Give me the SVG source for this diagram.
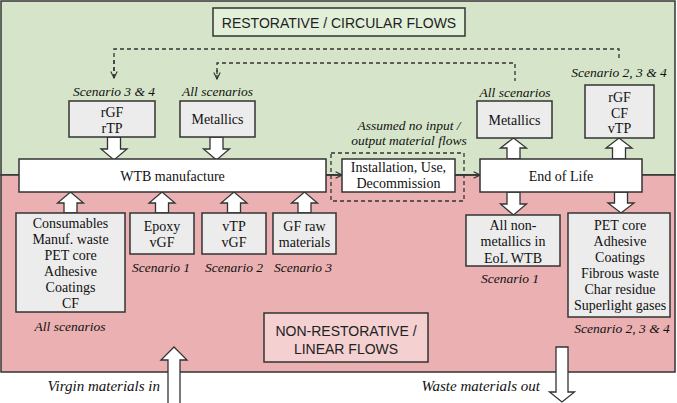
<svg xmlns="http://www.w3.org/2000/svg" width="677" height="403" viewBox="0 0 677 403">
<defs>
<style>
.bg-g{fill:#d6e5c9;stroke:#333;stroke-width:1.5}
.bg-p{fill:#ebb0b1;stroke:#333;stroke-width:1.5}
.box{fill:#ececec;stroke:#333;stroke-width:1.5}
.wbox{fill:#fff;stroke:#333;stroke-width:1.5}
.ba{fill:#fff;stroke:#333;stroke-width:1.3;stroke-linejoin:miter}
.t{font-family:'Liberation Serif','Times New Roman','DejaVu Serif',serif;font-size:14px;fill:#111;text-anchor:middle}
.i{font-family:'Liberation Serif','Times New Roman','DejaVu Serif',serif;font-size:13.5px;font-style:italic;fill:#111;text-anchor:middle}
.il{font-family:'Liberation Serif','Times New Roman','DejaVu Serif',serif;font-size:15px;font-style:italic;fill:#111}
.s{font-family:'Liberation Sans',Arial,sans-serif;font-size:14px;fill:#222;text-anchor:middle}
.dash{fill:none;stroke:#333;stroke-width:1.3;stroke-dasharray:4 3}
.conn{fill:none;stroke:#333;stroke-width:1.3}
</style>
<marker id="chev" viewBox="0 0 10 10" refX="9" refY="5" markerWidth="8" markerHeight="8" markerUnits="userSpaceOnUse" orient="auto">
<polyline points="1,1 9,5 1,9" fill="none" stroke="#333" stroke-width="1.4"/>
</marker>
</defs>

<g id="background">
<rect class="bg-g" x="1" y="1" width="674" height="174"/>
<rect class="bg-p" x="1" y="175" width="674" height="197"/>
</g>

<g id="title-restorative">
<rect x="213" y="8" width="252" height="28" fill="#e2efd9" stroke="#333" stroke-width="1.5"/>
<text class="s" x="339" y="28" font-size="15">RESTORATIVE / CIRCULAR FLOWS</text>
</g>

<g id="title-linear">
<rect x="264" y="313" width="164" height="49" fill="#f4d0d1" stroke="#333" stroke-width="1.5"/>
<text class="s" x="346" y="336">NON-RESTORATIVE /</text>
<text class="s" x="346" y="354">LINEAR FLOWS</text>
</g>

<g id="connectors">
<path class="dash" d="M114,78 V49 H619 V61"/>
<path class="dash" d="M114,60 V78" marker-end="url(#chev)"/>
<path class="dash" d="M217,79 V63 H515 V81"/>
<path class="dash" d="M217,70 V79" marker-end="url(#chev)"/>
<rect class="dash" x="331" y="153" width="133" height="48"/>
<line class="conn" x1="326" y1="175" x2="342" y2="175" marker-end="url(#chev)"/>
<line class="conn" x1="455" y1="175" x2="480" y2="175" marker-end="url(#chev)"/>
<path class="ba" d="M107.5,137 H120.5 V149 H127 L114,160 L101,149 H107.5 Z"/>
<path class="ba" d="M210,137 H223 V149 H229.5 L216.5,160 L203.5,149 H210 Z"/>
<path class="ba" d="M507,159 H520 V148 H526.5 L513.5,138 L500.5,148 H507 Z"/>
<path class="ba" d="M612.5,159 H625.5 V148 H632 L619,138 L606,148 H612.5 Z"/>
<path class="ba" d="M64,213 H77 V203 H83.5 L70.5,192 L57.5,203 H64 Z"/>
<path class="ba" d="M155.5,213 H168.5 V203 H175 L162,192 L149,203 H155.5 Z"/>
<path class="ba" d="M227.5,213 H240.5 V203 H247 L234,192 L221,203 H227.5 Z"/>
<path class="ba" d="M298,213 H311 V203 H317.5 L304.5,192 L291.5,203 H298 Z"/>
<path class="ba" d="M507,192 H520 V204 H526.5 L513.5,215 L500.5,204 H507 Z"/>
<path class="ba" d="M614.5,192 H627.5 V203 H634 L621,213 L608,203 H614.5 Z"/>
<path class="ba" d="M168,404 H180 V360 H187 L174,347 L161,360 H168 Z"/>
<path class="ba" d="M556,347 H568 V392 H574.5 L562,402 L549.5,392 H556 Z"/>
</g>

<g id="wtb-manufacture">
<rect class="wbox" x="19" y="159" width="307" height="33"/>
<text class="t" x="172.5" y="181">WTB manufacture</text>
</g>

<g id="installation">
<rect class="wbox" x="342" y="159" width="113" height="33"/>
<text class="t" x="398.5" y="172">Installation, Use,</text>
<text class="t" x="398.5" y="188">Decommission</text>
</g>
<g id="note-assumed">
<text class="i" x="409" y="130">Assumed no input /</text>
<text class="i" x="409" y="145">output material flows</text>
</g>

<g id="end-of-life">
<rect class="wbox" x="480" y="159" width="162" height="33"/>
<text class="t" x="561" y="181">End of Life</text>
</g>

<g id="rgf-rtp">
<text class="i" x="114" y="96">Scenario 3 &amp; 4</text>
<rect class="box" x="69" y="101" width="86" height="36"/>
<text class="t" x="112" y="117">rGF</text>
<text class="t" x="112" y="133">rTP</text>
</g>

<g id="metallics-in">
<text class="i" x="217.5" y="96">All scenarios</text>
<rect class="box" x="180" y="101" width="75" height="36"/>
<text class="t" x="217.5" y="124">Metallics</text>
</g>

<g id="metallics-out">
<text class="i" x="515" y="97">All scenarios</text>
<rect class="box" x="477" y="101" width="75" height="37"/>
<text class="t" x="514.5" y="125">Metallics</text>
</g>

<g id="rgf-cf-vtp">
<text class="i" x="619" y="77">Scenario 2, 3 &amp; 4</text>
<rect class="box" x="585" y="85" width="69" height="53"/>
<text class="t" x="619.5" y="102">rGF</text>
<text class="t" x="619.5" y="117.5">CF</text>
<text class="t" x="619.5" y="133">vTP</text>
</g>

<g id="consumables">
<rect class="box" x="16" y="213" width="109" height="99"/>
<text class="t" x="70.5" y="228">Consumables</text>
<text class="t" x="70.5" y="244">Manuf. waste</text>
<text class="t" x="70.5" y="260">PET core</text>
<text class="t" x="70.5" y="276">Adhesive</text>
<text class="t" x="70.5" y="292">Coatings</text>
<text class="t" x="70.5" y="308">CF</text>
<text class="i" x="70" y="331">All scenarios</text>
</g>

<g id="epoxy-vgf">
<rect class="box" x="130" y="213" width="64" height="41"/>
<text class="t" x="162" y="231">Epoxy</text>
<text class="t" x="162" y="247">vGF</text>
<text class="i" x="161" y="272">Scenario 1</text>
</g>

<g id="vtp-vgf">
<rect class="box" x="202" y="213" width="64" height="41"/>
<text class="t" x="234" y="231">vTP</text>
<text class="t" x="234" y="247">vGF</text>
<text class="i" x="234" y="272">Scenario 2</text>
</g>

<g id="gf-raw">
<rect class="box" x="273" y="213" width="63" height="41"/>
<text class="t" x="304.5" y="231">GF raw</text>
<text class="t" x="304.5" y="247">materials</text>
<text class="i" x="303" y="272">Scenario 3</text>
</g>

<g id="non-metallics">
<rect class="box" x="466" y="215" width="94" height="51"/>
<text class="t" x="513" y="230">All non-</text>
<text class="t" x="513" y="246">metallics in</text>
<text class="t" x="513" y="263">EoL WTB</text>
<text class="i" x="510" y="283">Scenario 1</text>
</g>

<g id="pet-core-out">
<rect class="box" x="568" y="213" width="102" height="104"/>
<text class="t" x="620" y="230">PET core</text>
<text class="t" x="620" y="246">Adhesive</text>
<text class="t" x="620" y="262">Coatings</text>
<text class="t" x="620" y="278">Fibrous waste</text>
<text class="t" x="620" y="294">Char residue</text>
<text class="t" x="620" y="310">Superlight gases</text>
<text class="i" x="622" y="333">Scenario 2, 3 &amp; 4</text>
</g>

<g id="flow-labels">
<text class="il" x="160" y="391" text-anchor="end">Virgin materials in</text>
<text class="il" x="540" y="391" text-anchor="end">Waste materials out</text>
</g>
</svg>
